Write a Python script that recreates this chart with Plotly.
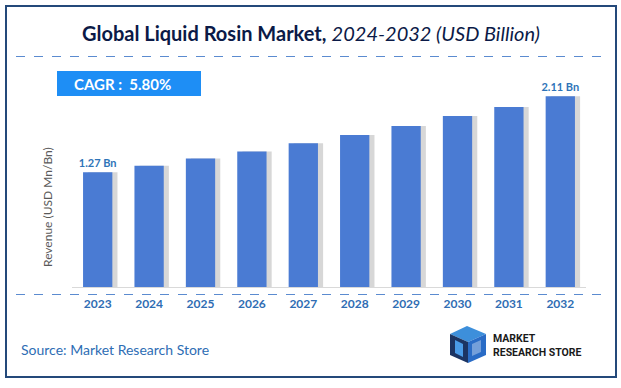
import plotly.graph_objects as go

years = ["2023", "2024", "2025", "2026", "2027", "2028", "2029", "2030", "2031", "2032"]
revenue = [1.27, 1.34, 1.42, 1.50, 1.59, 1.68, 1.78, 1.89, 1.99, 2.11]
value_labels = ["1.27 Bn", "", "", "", "", "", "", "", "", "2.11 Bn"]
cagr_text = "CAGR :  5.80%"

W, H = 621, 388
L, R, T, B = 72, 35, 70, 101
PW, PH = W - L - R, H - T - B
YMAX = 2.4

def px(x):
    return (x - L) / PW

def py(y):
    return (H - B - y) / PH

FONT = "Lato"
BLUE_BAR = "#4A7BD3"
LABEL = "#2E74B8"

fig = go.Figure()
# soft shadow behind bars
fig.add_trace(go.Bar(x=list(range(len(years))), y=revenue, width=0.57, offset=-0.285 + 0.10,
                     marker=dict(color="rgba(110,110,110,0.28)", line=dict(width=0)),
                     hoverinfo="skip", showlegend=False))
fig.add_trace(go.Bar(x=list(range(len(years))), y=revenue, width=0.57, offset=-0.285,
                     marker=dict(color=BLUE_BAR, line=dict(width=0)),
                     text=value_labels, textposition="outside", cliponaxis=False, constraintext="none",
                     textfont=dict(family=FONT, size=11, color=LABEL, weight="bold"),
                     showlegend=False))

fig.update_layout(
    width=W, height=H, barmode="overlay",
    margin=dict(l=L, r=R, t=T, b=B),
    paper_bgcolor="white", plot_bgcolor="white",
    font=dict(family=FONT),
    xaxis=dict(range=[-0.5, 9.5], tickmode="array", tickvals=list(range(len(years))), ticktext=years,
               showgrid=False, zeroline=False, showline=True, linecolor="#D9D9D9", linewidth=1,
               ticks="", ticklabelstandoff=6,
               tickfont=dict(family=FONT, size=12, color="#2F6DB3", weight="bold")),
    yaxis=dict(range=[0, YMAX], visible=False),
)

shapes = []
# outer border
shapes.append(dict(type="rect", xref="paper", yref="paper", x0=px(6), x1=px(616), y0=py(377), y1=py(6),
                   line=dict(color="#24497A", width=2), fillcolor="rgba(0,0,0,0)", layer="below"))
# dashed separators
for yy in (56.5, 294.5):
    shapes.append(dict(type="line", xref="paper", yref="paper", x0=px(16), x1=px(605), y0=py(yy), y1=py(yy),
                       line=dict(color="#5B8BD0", width=1, dash="dash")))
# CAGR box
shapes.append(dict(type="rect", xref="paper", yref="paper", x0=px(57), x1=px(201), y0=py(96), y1=py(71),
                   line=dict(width=0), fillcolor="#1E8EF5"))

def poly(pts):
    return "M " + " L ".join(f"{px(x)} {py(y)}" for x, y in pts) + " Z"

# logo cube
shapes.append(dict(type="path", xref="paper", yref="paper", path=poly([(467, 326), (486, 334), (468, 342), (450, 334)]),
                   fillcolor="#3D8FDB", line=dict(width=0)))
shapes.append(dict(type="path", xref="paper", yref="paper", path=poly([(450, 334), (468, 342), (468, 363), (450, 355)]),
                   fillcolor="#1C3463", line=dict(width=0)))
shapes.append(dict(type="path", xref="paper", yref="paper", path=poly([(468, 342), (486, 334), (486, 355), (468, 363)]),
                   fillcolor="#2A6CC6", line=dict(width=0)))
shapes.append(dict(type="path", xref="paper", yref="paper", path=poly([(455, 340), (463, 344), (463, 357), (455, 353)]),
                   fillcolor="#4A9BE8", line=dict(width=0)))
shapes.append(dict(type="path", xref="paper", yref="paper", path=poly([(472, 344), (481, 340), (481, 352), (472, 356)]),
                   fillcolor="#FFFFFF", line=dict(width=0), opacity=0.35))
fig.update_layout(shapes=shapes)

ann = []
ann.append(dict(xref="paper", yref="paper", x=px(311), y=py(33), xanchor="center", yanchor="middle",
                text="<b>Global Liquid Rosin Market,</b> <i>2024-2032 (USD Billion)</i>",
                showarrow=False, font=dict(family=FONT, size=20, color="#0B1A47")))
ann.append(dict(xref="paper", yref="paper", x=px(72), y=py(84), xanchor="left", yanchor="middle",
                text=cagr_text, showarrow=False, font=dict(family=FONT, size=15, color="white", weight="bold")))
ann.append(dict(xref="paper", yref="paper", x=px(47), y=py(207), xanchor="center", yanchor="middle",
                text="Revenue (USD Mn/Bn)", textangle=-90, showarrow=False,
                font=dict(family=FONT, size=12, color="#595959")))
ann.append(dict(xref="paper", yref="paper", x=px(19), y=py(349), xanchor="left", yanchor="middle",
                text="Source: Market Research Store", showarrow=False,
                font=dict(family=FONT, size=14, color="#2E6DB4")))
ann.append(dict(xref="paper", yref="paper", x=px(491), y=py(345), xanchor="left", yanchor="middle",
                text="<b>MARKET<br>RESEARCH STORE</b>", align="left", showarrow=False,
                font=dict(family="Roboto", size=10.5, color="#1A1A1A")))
fig.update_layout(annotations=ann)

fig.write_html("out.html", config={"displayModeBar": False},
               post_script="document.body.style.margin='0';document.body.style.overflow='hidden';")
